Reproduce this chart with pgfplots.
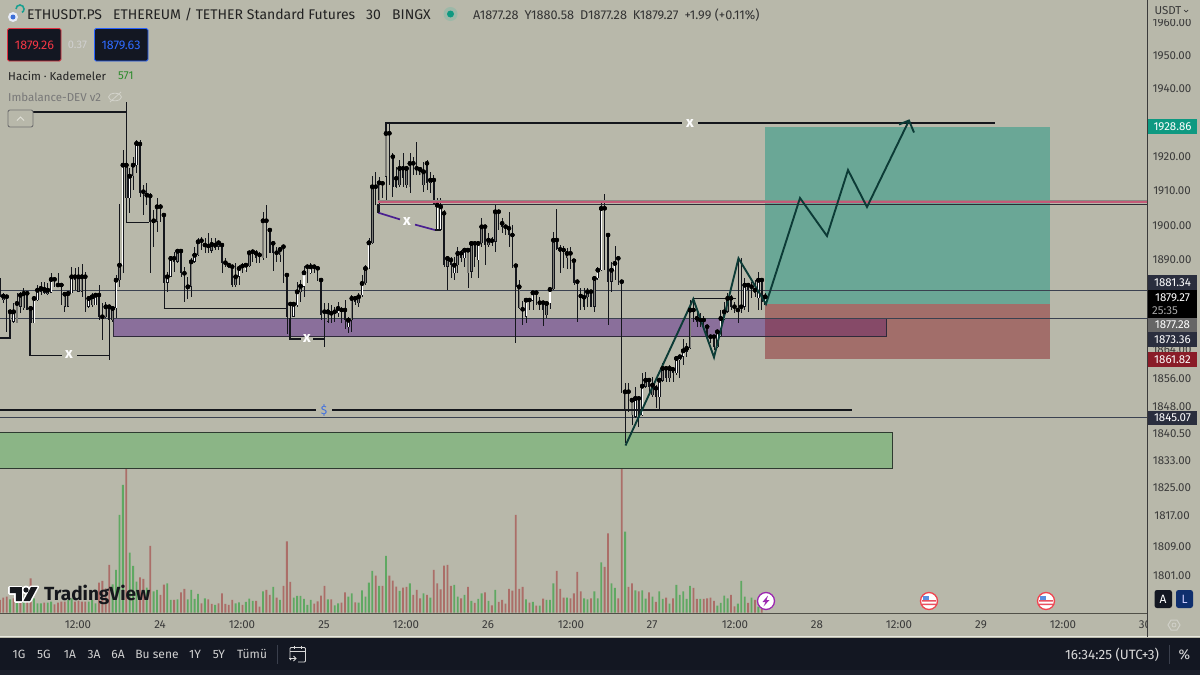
\documentclass[border=0pt]{standalone}
\usepackage{pgfplots}
\usepackage{pgfplotstable}
\usepackage{fontspec}
\setmainfont{Fira Sans}
\pgfplotsset{compat=1.18}
\newcommand\dc[1]{\definecolor{c#1}{HTML}{#1}}
\dc{1C202C}\dc{8BB586}\dc{2E3A30}\dc{8A6F9B}\dc{2F2A3A}\dc{6AA796}\dc{A26E6A}\dc{864A68}\dc{8A8A82}\dc{C45A78}\dc{2C2C34}\dc{4A1F90}\dc{3F6FE0}\dc{0E9981}\dc{666666}\dc{8A1C28}\dc{3A3A3A}\dc{505048}\dc{E8E8E0}\dc{D0D0C8}\dc{E8ECF8}\dc{3D6FD8}\dc{18A090}\dc{222222}\dc{9CB8A8}\dc{333333}\dc{E03040}\dc{F23645}\dc{D0D0D0}\dc{2962FF}\dc{2F6BFF}\dc{2E8B2E}\dc{787878}\dc{D2D2CA}\dc{707070}\dc{E0E0D8}\dc{3A3F4C}\dc{D8D8D8}\dc{0F2F6E}\dc{9C27B0}\dc{F0444F}\dc{E85060}\dc{5A8FE0}\dc{15171C}
\definecolor{bg}{HTML}{B8B8AA}
\definecolor{panel}{HTML}{131722}
\definecolor{cdark}{HTML}{14161C}
\definecolor{cgray}{HTML}{7C7C76}
\definecolor{volg}{HTML}{5FA862}
\definecolor{volr}{HTML}{AB6E68}
\definecolor{tagc}{HTML}{2A2E3E}
\definecolor{axtxt}{HTML}{3A3A3A}
\definecolor{zig}{HTML}{0C3B36}
\definecolor{cthin}{HTML}{3A4150}
\pgfplotstableread{
i v c
0 38 0
1 45 0
2 48 0
3 40 1
4 43 0
5 33 1
6 33 0
7 43 1
8 48 0
9 103 0
10 43 1
11 28 1
12 28 1
13 30 0
14 30 1
15 33 1
16 25 0
17 30 0
18 33 0
19 33 0
20 38 1
21 43 1
22 33 0
23 36 0
24 33 0
25 33 0
26 33 1
27 38 1
28 28 1
29 90 0
30 95 0
31 73 0
32 143 0
33 85 1
34 128 1
35 293 1
36 383 1
37 440 0
38 180 1
39 140 1
40 93 1
41 106 0
42 101 0
43 75 1
44 200 0
45 64 1
46 68 1
47 53 0
48 84 0
49 88 1
50 38 1
51 38 0
52 40 1
53 61 0
54 71 0
55 40 1
56 68 1
57 41 1
58 56 1
59 28 0
60 43 1
61 40 0
62 26 0
63 23 1
64 28 0
65 58 0
66 26 0
67 23 0
68 38 0
69 28 1
70 31 1
71 23 0
72 32 1
73 42 1
74 35 1
75 35 0
76 18 0
77 64 1
78 68 0
79 53 0
80 77 1
81 45 0
82 38 1
83 80 0
84 214 0
85 92 0
86 45 1
87 50 1
88 50 1
89 41 1
90 23 1
91 38 1
92 27 0
93 34 0
94 51 0
95 80 0
96 40 1
97 40 0
98 22 1
99 28 1
100 30 0
101 61 0
102 48 1
103 58 1
104 31 0
105 30 1
106 67 1
107 48 1
108 90 1
109 125 1
110 111 0
111 80 1
112 80 0
113 170 1
114 111 0
115 96 0
116 78 0
117 65 1
118 75 0
119 77 0
120 88 1
121 53 0
122 68 0
123 43 0
124 58 1
125 53 0
126 45 1
127 128 0
128 88 0
129 70 0
130 141 0
131 143 0
132 80 0
133 83 1
134 48 1
135 43 0
136 53 1
137 77 0
138 35 1
139 29 0
140 41 1
141 58 1
142 61 0
143 35 1
144 22 0
145 68 1
146 32 0
147 38 0
148 27 0
149 71 0
150 66 0
151 293 0
152 71 0
153 77 0
154 40 1
155 30 0
156 32 1
157 21 0
158 21 1
159 42 0
160 38 1
161 38 1
162 88 1
163 125 0
164 71 0
165 45 0
166 45 1
167 43 0
168 58 0
169 122 0
170 64 0
171 43 1
172 40 1
173 43 0
174 64 1
175 43 1
176 151 1
177 137 0
178 238 0
179 88 1
180 74 1
181 43 0
182 460 0
183 243 1
184 77 0
185 88 0
186 67 1
187 64 0
188 67 1
189 42 1
190 61 0
191 48 1
192 32 0
193 64 1
194 41 1
195 45 0
196 27 1
197 43 0
198 83 1
199 53 1
200 64 1
201 41 1
202 80 1
203 74 0
204 41 0
205 41 1
206 41 0
207 43 0
208 45 0
209 35 0
210 21 1
211 29 1
212 51 1
213 43 1
214 53 0
215 19 0
216 27 1
217 95 1
218 48 1
219 29 0
220 45 1
221 38 0
222 18 1
223 13 0
}\voltab
\pgfplotstableread{
i hi top bot lo
0 565 570 600 620
2 615 620 700 725
8 610 610 660 660
16 560 568 585 590
17 550 585 588 590
18 580 585 615 645
22 535 560 570 600
25 545 560 650 665
29 585 615 680 690
30 640 680 685 750
32 645 650 690 805
41 150 162 310 320
42 285 305 320 375
44 310 318 395 548
47 343 350 375 395
48 375 375 578 655
51 485 505 515 545
53 478 483 550 560
54 530 550 590 635
59 440 452 470 480
60 445 465 472 490
61 430 468 475 490
63 445 465 475 480
65 465 465 518 548
66 505 518 528 530
67 525 525 535 535
68 530 530 585 592
71 520 528 540 550
74 480 485 515 515
75 480 490 505 520
76 485 495 515 520
78 345 392 500 505
79 420 420 490 490
80 458 460 490 542
81 470 488 495 515
83 468 470 555 578
84 555 555 680 732
85 640 642 680 745
90 528 530 550 580
92 525 530 535 550
93 530 535 570 572
94 570 570 675 690
95 640 665 695 772
97 645 670 680 700
98 650 665 672 695
100 650 660 670 700
101 630 660 690 718
104 620 625 635 645
110 245 290 342 345
112 280 280 325 325
}\AD
\pgfplotstableread{
i hi top bot lo
1 610 618 630 640
3 660 665 715 745
5 610 640 700 700
6 605 615 650 670
7 595 610 655 660
9 650 655 700 700
12 575 595 605 615
13 575 598 608 612
14 580 600 612 615
19 608 612 650 665
20 605 610 650 650
23 530 560 605 605
24 523 560 605 620
27 610 620 645 650
31 635 650 682 685
33 650 655 690 695
35 343 525 570 590
37 35 225 325 395
39 200 225 258 300
46 325 350 395 425
52 478 483 515 520
56 503 515 590 620
58 443 455 495 498
62 445 463 482 490
64 455 458 470 480
69 520 560 585 590
73 482 488 528 530
77 365 392 505 510
82 470 478 495 515
88 570 588 607 637
96 640 665 695 698
103 615 625 690 725
105 610 620 640 652
107 525 535 580 585
109 258 290 460 462
111 260 278 335 370
}\AG
\pgfplotstableread{
i hi top bot lo
4 640 665 695 700
10 622 625 700 700
11 585 600 630 632
15 548 568 608 610
21 530 560 610 610
26 620 625 650 655
28 612 615 645 645
34 555 570 655 685
36 180 225 525 550
38 235 258 325 370
40 150 160 225 250
43 280 315 322 345
45 360 392 400 472
49 545 560 578 605
50 500 505 560 560
55 560 590 598 628
57 470 495 515 520
70 525 535 560 585
72 522 525 540 545
86 640 642 680 682
87 575 605 645 652
89 528 548 590 620
91 520 530 550 552
99 635 655 670 680
102 680 690 712 730
106 555 580 615 620
108 445 458 535 537
}\AW
\pgfplotstableread{
i hi top bot lo
114 40 70 140 225
115 130 140 230 260
116 170 205 230 235
118 130 175 205 230
121 140 160 190 195
122 95 175 195 195
125 150 160 220 240
127 195 210 285 285
130 300 310 465 470
132 440 450 465 505
135 420 430 445 455
139 400 400 440 470
142 345 350 405 465
144 380 392 400 408
146 300 305 345 360
147 325 340 350 370
148 345 350 360 375
149 305 355 375 410
150 345 375 470 475
151 467 467 530 700
153 572 598 620 645
155 565 570 575 600
157 545 548 578 585
158 560 578 598 600
159 578 578 600 648
163 298 390 418 420
164 405 418 425 490
165 408 420 440 475
167 410 430 455 478
168 450 452 520 525
169 515 515 560 635
170 535 558 570 600
171 535 562 590 600
173 540 545 590 590
177 253 295 375 480
178 370 375 515 645
181 440 445 520 525
182 515 515 845 848
184 820 845 905 905
187 860 865 915 950
190 805 810 830 850
192 825 835 860 895
195 770 775 805 815
197 770 778 790 815
203 570 600 630 635
204 600 625 635 650
205 610 630 640 650
206 618 630 650 655
207 645 650 680 690
208 675 680 690 700
209 678 680 712 720
214 555 565 590 600
215 575 590 600 610
216 445 600 605 640
217 445 590 605 610
219 520 525 540 605
220 515 530 560 565
221 510 540 550 560
223 505 510 575 600
}\BD
\pgfplotstableread{
i hi top bot lo
113 40 70 200 270
117 150 175 225 232
119 170 175 225 235
120 130 160 232 250
123 170 178 195 195
124 155 185 225 245
131 440 445 470 540
134 410 430 465 490
137 415 420 490 535
138 398 400 485 505
141 325 350 400 410
143 370 390 405 410
145 285 305 395 425
152 510 530 595 598
160 578 580 615 625
162 365 390 538 540
166 415 430 445 478
172 535 545 562 590
174 505 505 590 605
179 455 480 515 545
183 818 845 900 1000
185 865 870 915 945
189 785 810 830 835
191 800 825 855 860
194 760 775 812 815
196 765 775 805 815
202 570 600 715 718
213 550 565 605 610
}\BG
\pgfplotstableread{
i hi top bot lo
126 185 210 220 250
128 265 285 360 362
129 265 290 360 362
133 440 465 490 510
136 415 420 445 470
140 395 400 450 505
154 565 570 620 640
156 545 548 572 600
161 535 538 580 598
175 470 480 505 510
176 280 295 480 482
180 408 460 480 510
186 830 865 920 925
188 790 828 915 918
193 808 810 862 900
198 740 745 790 795
199 738 740 750 805
200 688 722 740 765
201 700 715 725 740
210 665 665 712 715
211 600 625 678 680
212 575 605 628 630
218 505 525 590 600
222 485 510 565 600
224 550 560 585 585
}\BW
\newcommand\wicks[2]{%
\addplot[only marks,mark=none,error bars/.cd,y dir=both,y explicit,error mark=none,error bar style={draw=cdark,line width=0.75pt}]
 table[x expr=3.4166*\thisrow{i}-0.1,y expr=#2+\thisrow{top}/3,y error plus expr=(\thisrow{lo}-\thisrow{top})/3,y error minus expr=(\thisrow{top}-\thisrow{hi})/3]{#1};
}
\newcommand\bars[4]{%
\addplot[only marks,mark=none,error bars/.cd,y dir=plus,y explicit,error mark=none,error bar style={draw=#4,line width=#3}]
 table[x expr=3.4166*\thisrow{i}-0.1,y expr=#2+\thisrow{top}/3,y error plus expr=(\thisrow{bot}-\thisrow{top})/3]{#1};
}
\newcommand\inner[3]{%
\addplot[only marks,mark=none,error bars/.cd,y dir=plus,y explicit,error mark=none,error bar style={draw=#3,line width=1.1pt}]
 table[x expr=3.4166*\thisrow{i}-0.1,y expr=#2+\thisrow{top}/3+0.4,y error plus expr=(\thisrow{bot}-\thisrow{top})/3-0.8]{#1};
}
\newcommand\pl[2]{\node[anchor=center,inner sep=0pt,text=axtxt,font=\fontsize{11.5}{13}\selectfont] at (1172,#1) {#2};}
\newcommand\tl[2]{\node[anchor=center,inner sep=0pt,text=axtxt,font=\fontsize{11.5}{13}\selectfont] at (#1,625) {#2};}
\newcommand\tg[4]{\fill[#3] (1148,#1) rectangle (1197,#2);\node[anchor=center,inner sep=0pt,text=white,font=\fontsize{11.5}{13}\selectfont] at (1172.5,{(#1+#2)/2}) {#4};}
\newcommand\bt[2]{\node[anchor=center,inner sep=0pt,text=white!82!black,font=\fontsize{12}{13}\selectfont] at (#1,654) {#2};}
\newcommand\xm[2]{\node[anchor=center,inner sep=0pt,text=white,font=\bfseries\fontsize{15}{15}\selectfont] at (#1,#2) {x};}
\pgfplotsset{px/.style={at={(0,0)},anchor=south west,width=1200pt,height=675pt,scale only axis,xmin=0,xmax=1200,hide axis,clip=true}}
\begin{document}
\begin{tikzpicture}
% background and zones
\begin{axis}[px,ymin=0,ymax=675,y dir=reverse]
\fill[bg] (0,0) rectangle (1200,675);
\fill[panel] (0,637.5) rectangle (1200,670);
\fill[c1C202C] (0,670) rectangle (1200,675);
\end{axis}
% volume
\begin{axis}[px,ymin=-187,ymax=1838]
\addplot[ybar,bar width=1.8pt,bar shift=0pt,draw=none,fill=volg] table[x expr=3.4166*\thisrow{i}-0.1,y expr={\thisrow{c}==1?\thisrow{v}:0}]{\voltab};
\addplot[ybar,bar width=1.8pt,bar shift=0pt,draw=none,fill=volr] table[x expr=3.4166*\thisrow{i}-0.1,y expr={\thisrow{c}==0?\thisrow{v}:0}]{\voltab};
\end{axis}
% price chart
\begin{axis}[px,ymin=0,ymax=675,y dir=reverse]
% zones
\fill[c8BB586] (-1,432) rectangle (892,468);
\draw[c2E3A30,line width=0.9pt] (-1,432) -- (892,432) -- (892,468) -- (-1,468);
\fill[c8A6F9B] (113,318.7) rectangle (886,336);
\draw[c2F2A3A,line width=0.9pt] (113,318.7) rectangle (886,336);
% long position
\fill[c6AA796] (765,127) rectangle (1050,304);
\fill[cA26E6A] (765,304) rectangle (1050,359);
\fill[c864A68] (765,319.2) rectangle (886,335.6);
\draw[c2F2A3A,line width=0.9pt] (765,318.7) -- (886,318.7) -- (886,336) -- (765,336);
% thin price lines
\addplot[cthin,line width=0.7pt] coordinates {(0,290.5) (1147,290.5)};
\addplot[cthin,line width=0.7pt] coordinates {(0,318.5) (1147,318.5)};
\addplot[cthin,line width=0.7pt] coordinates {(0,417.8) (1147,417.8)};
\wicks{\AD}{90}\wicks{\AG}{90}\wicks{\AW}{90}\wicks{\BD}{110}\wicks{\BG}{110}\wicks{\BW}{110}
\bars{\AD}{90}{1.5pt}{cdark}\bars{\BD}{110}{1.5pt}{cdark}
\bars{\AG}{90}{2.5pt}{cdark}\bars{\BG}{110}{2.5pt}{cdark}
\bars{\AW}{90}{2.5pt}{cdark}\bars{\BW}{110}{2.5pt}{cdark}
\inner{\AG}{90}{cgray}\inner{\BG}{110}{cgray}
\inner{\AW}{90}{white}\inner{\BW}{110}{white}
% structure lines
\addplot[cdark,line width=1.5pt] coordinates {(8,112) (126,112)};
\addplot[cdark,line width=1.3pt] coordinates {(0,338) (10,338) (10,320)};
\addplot[cdark,line width=1.3pt] coordinates {(30,308) (30,355.3) (62,355.3)};
\addplot[cdark,line width=1.3pt] coordinates {(77,355.3) (109.5,355.3)};
\addplot[cdark,line width=1.1pt] coordinates {(109.5,308) (109.5,360)};
\addplot[cdark,line width=1.4pt] coordinates {(126,222.4) (149,222.4)};
\addplot[cdark,line width=1.4pt] coordinates {(163.5,308.4) (286,308.4)};
\addplot[cdark,line width=1.3pt] coordinates {(290,318) (290,339) (301,339)};
\addplot[cdark,line width=1.3pt] coordinates {(313,339) (325,339)};
\addplot[cdark,line width=1.1pt] coordinates {(324.5,320) (324.5,347)};
\addplot[cdark,line width=1.8pt] coordinates {(386,135) (386,123) (682,123)};
\addplot[cdark,line width=1.8pt] coordinates {(698,123) (995,123)};
\addplot[cdark,line width=1.5pt] coordinates {(0,410) (316,410)};
\addplot[cdark,line width=1.5pt] coordinates {(332,410) (852,410)};
% pink zone
\addplot[c8A8A82,line width=0.7pt] coordinates {(378,200) (1147,200)};
\addplot[cC45A78,line width=2pt] coordinates {(378,202.2) (1147,202.2)};
\addplot[c2C2C34,line width=0.9pt] coordinates {(378,204.4) (1147,204.4)};
% purple sweep
\addplot[c4A1F90,line width=1.7pt] coordinates {(378.3,212.7) (400,219.4)};
\addplot[c4A1F90,line width=1.7pt] coordinates {(415,224.6) (435,230)};
\addplot[cdark,line width=1.1pt] coordinates {(435,230) (441,230)};
\addplot[cdark,line width=1.1pt] coordinates {(378,204) (378,213)};
% projected path
\addplot[cdark,line width=1.4pt] coordinates {(693,298.6) (736,298.6)};
\addplot[zig,line width=1.9pt] coordinates {(625.5,445.5) (693.3,299) (714,357.3) (738.5,258.3) (766,304) (800,198) (827,236) (848,170) (867,207) (909,120.5)};
\addplot[zig,line width=1.9pt] coordinates {(899,124.5) (909,120.5) (914,132.5)};
\xm{69}{355}\xm{307}{338.5}\xm{690}{123.5}\xm{407}{222}
\node[anchor=center,inner sep=0pt,text=c3F6FE0,font=\fontsize{12}{13}\selectfont] at (324,410) {\$};
% right axis
\pl{23}{1960.00}\pl{56}{1950.00}\pl{89}{1940.00}\pl{157}{1920.00}\pl{191}{1910.00}\pl{226}{1900.00}\pl{260}{1890.00}
\pl{350}{1864.00}\pl{379}{1856.00}\pl{407}{1848.00}\pl{434}{1840.50}\pl{461}{1833.00}\pl{488}{1825.00}\pl{516}{1817.00}\pl{547}{1809.00}\pl{576}{1801.00}
\fill[bg] (1148,0) rectangle (1200,19);
\node[anchor=center,inner sep=0pt,text=axtxt,font=\fontsize{11.5}{13}\selectfont] at (1168,11) {USDT};
\draw[axtxt,line width=0.7pt] (1184,10) -- (1186,12) -- (1188,10);
\tg{119.3}{134}{c0E9981}{1928.86}
\tg{275}{290}{tagc}{1881.34}
\fill[black] (1148,290) rectangle (1197,318);
\node[anchor=center,inner sep=0pt,text=white,font=\fontsize{11.5}{13}\selectfont] at (1172.5,297.5) {1879.27};
\node[anchor=center,inner sep=0pt,text=white!65!black,font=\fontsize{11.5}{13}\selectfont] at (1165,310.5) {25:35};
\tg{318}{332}{c666666}{1877.28}
\tg{332}{347}{tagc}{1873.36}
\tg{352.3}{366.7}{c8A1C28}{1861.82}
\tg{410.7}{425}{tagc}{1845.07}
\draw[c3A3A3A,line width=0.9pt] (1147.5,0) -- (1147.5,637);
\draw[c505048,line width=1.4pt] (0,613.2) -- (1147,613.2);
\draw[cE8E8E0,line width=0.6pt] (0,636.4) -- (1200,636.4);
\tl{78}{12:00}\tl{160}{24}\tl{242}{12:00}\tl{324}{25}\tl{406}{12:00}\tl{488}{26}\tl{571}{12:00}\tl{652}{27}\tl{735}{12:00}\tl{817}{28}\tl{899}{12:00}\tl{981}{29}\tl{1063}{12:00}\tl{1145}{30}
\fill[bg] (1148,614) rectangle (1200,636);
\draw[c3A3A3A,line width=0.9pt] (1147.5,613) -- (1147.5,637);
\draw[cD0D0C8,line width=1pt] (1168,625) -- (1171,620) -- (1177,620) -- (1180,625) -- (1177,630) -- (1171,630) -- cycle;
\draw[cD0D0C8,line width=0.8pt] (1174,625) circle[radius=2pt];
% header
\fill[cE8ECF8] (13,17) circle[radius=5pt];
\fill[c3D6FD8] (13,17) circle[radius=2.5pt];
\draw[c18A090,line width=1.6pt] (16,9) arc[start angle=180,end angle=-60,radius=4pt];
\node[anchor=west,inner sep=0pt,text=c222222,font=\fontsize{14}{16}\selectfont] at (27,15) {ETHUSDT.PS};
\node[anchor=west,inner sep=0pt,text=c222222,font=\fontsize{14}{16}\selectfont] at (113,15) {ETHEREUM / TETHER Standard Futures};
\node[anchor=west,inner sep=0pt,text=c222222,font=\fontsize{14}{16}\selectfont] at (366,15) {30};
\node[anchor=west,inner sep=0pt,text=c222222,font=\fontsize{14}{16}\selectfont] at (392,15) {BINGX};
\fill[c9CB8A8] (450.5,14) circle[radius=7pt];
\fill[c0E9981] (450.5,14) circle[radius=3.5pt];
\node[anchor=west,inner sep=0pt,text=c333333,font=\fontsize{12.7}{14}\selectfont] at (473,15.5) {A1877.28\hspace{6pt}Y1880.58\hspace{6pt}D1877.28\hspace{6pt}K1879.27\hspace{6pt}+1.99 (+0.11\%)};
\filldraw[fill=panel,draw=cE03040,line width=0.9pt,rounded corners=1.5pt] (7.5,28.5) rectangle (61,61);
\node[anchor=center,inner sep=0pt,text=cF23645,font=\fontsize{12.5}{13}\selectfont] at (34.5,45) {1879.26};
\node[anchor=center,inner sep=0pt,text=cD0D0D0,font=\fontsize{11}{13}\selectfont] at (77.5,45) {0.37};
\filldraw[fill=panel,draw=c2962FF,line width=0.9pt,rounded corners=1.5pt] (94.5,28.5) rectangle (148,61);
\node[anchor=center,inner sep=0pt,text=c2F6BFF,font=\fontsize{12.5}{13}\selectfont] at (121,45) {1879.63};
\node[anchor=west,inner sep=0pt,text=c222222,font=\fontsize{11.5}{13}\selectfont] at (8,76) {Hacim · Kademeler};
\node[anchor=west,inner sep=0pt,text=c2E8B2E,font=\fontsize{11.5}{13}\selectfont] at (118,76) {571};
\node[anchor=west,inner sep=0pt,text=c787878,font=\fontsize{11.5}{13}\selectfont] at (8,97) {Imbalance-DEV v2};
\draw[cD2D2CA,line width=0.8pt] (115,97) ellipse[x radius=6.5pt,y radius=3.8pt];
\draw[cD2D2CA,line width=0.8pt] (110,102) -- (121,92);
\filldraw[fill=bg,draw=c707070,line width=0.9pt,rounded corners=2pt] (8,110) rectangle (33,127);
\draw[cE0E0D8,line width=1pt] (17,120.5) -- (20.5,117) -- (24,120.5);
% bottom bar
\bt{19}{1G}\bt{44}{5G}\bt{70}{1A}\bt{94}{3A}\bt{118}{6A}\bt{157}{Bu sene}\bt{195}{1Y}\bt{219}{5Y}\bt{252}{Tümü}
\draw[c3A3F4C,line width=0.8pt] (277,645) -- (277,664);
\draw[cD8D8D8,line width=0.9pt,rounded corners=1pt] (291,660) -- (290,660) -- (290,647.5) -- (305.5,647.5) -- (305.5,662) -- (298,662);
\draw[cD8D8D8,line width=0.9pt] (290,651.5) -- (305.5,651.5) (294,645.5) -- (294,649) (301,645.5) -- (301,649);
\draw[cD8D8D8,line width=0.9pt] (289,658.5) -- (296,658.5) (293.5,656) -- (296,658.5) -- (293.5,661);
\node[anchor=center,inner sep=0pt,text=white!85!black,font=\fontsize{13.5}{14}\selectfont] at (1112,655) {16:34:25 (UTC+3)};
\draw[c3A3F4C,line width=0.8pt] (1169.5,645) -- (1169.5,664);
\node[anchor=center,inner sep=0pt,text=white!85!black,font=\fontsize{14}{14}\selectfont] at (1184.5,655) {\%};
% A L buttons
\fill[panel,rounded corners=2.5pt] (1154.5,590) rectangle (1172,608);
\node[anchor=center,inner sep=0pt,text=white,font=\fontsize{12}{13}\selectfont] at (1163,599) {A};
\fill[c0F2F6E,rounded corners=2.5pt] (1176,590) rectangle (1193,608);
\node[anchor=center,inner sep=0pt,text=white!80!blue,font=\fontsize{12}{13}\selectfont] at (1184.5,599) {L};
% event icons
\filldraw[fill=white,draw=c9C27B0,line width=1.3pt] (766,601) circle[radius=8.5pt];
\fill[c9C27B0] (768,595.5) -- (762.5,602) -- (765.5,602) -- (763.5,606.5) -- (769.5,600) -- (766.5,600) -- cycle;
\filldraw[fill=white,draw=cF0444F,line width=1.3pt] (929,601) circle[radius=8.5pt];
\filldraw[fill=white,draw=cF0444F,line width=1.3pt] (1046,601) circle[radius=8.5pt];
\fill[cE85060] (922,600) rectangle (936,601.5) (922,603.5) rectangle (936,605);
\fill[cE85060] (1039,600) rectangle (1053,601.5) (1039,603.5) rectangle (1053,605);
\fill[c5A8FE0] (922.5,595.5) rectangle (929,600);
\fill[c5A8FE0] (1039.5,595.5) rectangle (1046,600);
% TradingView logo
\filldraw[fill=white,draw=white,line width=3pt,line join=round] (10,587) -- (22,587) -- (22,601) -- (16,601) -- (16,593) -- (10,593) -- cycle;
\filldraw[fill=white,draw=white,line width=3pt,line join=round] (31,587) -- (37.5,587) -- (30,601) -- (23.5,601) -- cycle;
\fill[white] (26,590) circle[radius=4.5pt];
\fill[c15171C] (10,587) -- (22,587) -- (22,601) -- (16,601) -- (16,593) -- (10,593) -- cycle;
\fill[c15171C] (31,587) -- (37.5,587) -- (30,601) -- (23.5,601) -- cycle;
\fill[c15171C] (26,590) circle[radius=2.6pt];
\node[anchor=west,inner sep=0pt,text=c15171C,font=\bfseries\fontsize{19}{19}\selectfont] at (44,594.5) {TradingView};
\end{axis}
\end{tikzpicture}
\end{document}
